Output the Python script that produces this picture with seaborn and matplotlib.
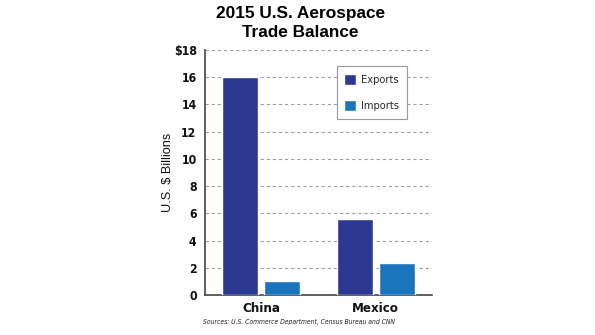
import matplotlib
matplotlib.use("Agg")
import matplotlib.pyplot as plt
import seaborn as sns
import pandas as pd

categories = ["China", "Mexico"]
series = ["Exports", "Imports"]
exports = [16.0, 5.6]
imports = [1.0, 2.35]
yticks = [0, 2, 4, 6, 8, 10, 12, 14, 16, 18]
ytick_labels = ["0", "2", "4", "6", "8", "10", "12", "14", "16", "$18"]
colors = ["#2b3990", "#1b75bc"]

df = pd.DataFrame({
    "Country": categories * 2,
    "Flow": [series[0]] * 2 + [series[1]] * 2,
    "Value": exports + imports,
})

sns.set_style("white")
plt.rcParams["font.family"] = ["Liberation Sans", "DejaVu Sans"]

fig = plt.figure(figsize=(5.95, 3.35), dpi=100)
ax = fig.add_axes([0.3445, 0.1194, 0.3815, 0.7313])

sns.barplot(data=df, x="Country", y="Value", hue="Flow", palette=colors,
            width=0.73, gap=0.14, ax=ax, saturation=1, zorder=3)

cond_bold = dict(family=["DejaVu Sans"], stretch="condensed", weight="bold")

ax.set_xlim(-0.49, 1.49)
ax.set_ylim(0, 18)
ax.set_yticks(yticks)
ax.set_yticklabels(ytick_labels, fontsize=8.8, color="#111111", **cond_bold)
ax.set_xticklabels(categories, fontsize=9.5, color="#111111", **cond_bold)
ax.tick_params(axis="both", length=0, pad=6)
ax.tick_params(axis="x", pad=5)
ax.set_xlabel("")
ax.set_ylabel("U.S. $ Billions", fontsize=9.2, color="#111111")
ax.yaxis.set_label_coords(-0.135, 0.5)

for y in yticks[1:]:
    ax.axhline(y, color="#a0a0a0", lw=0.8, ls=(0, (3, 2.5)), zorder=1)

for s in ["top", "right"]:
    ax.spines[s].set_visible(False)
for s in ["left", "bottom"]:
    ax.spines[s].set_color("#444444")
    ax.spines[s].set_linewidth(1.2)

leg = ax.legend(loc="upper left", bbox_to_anchor=(0.58, 0.935), frameon=True,
                borderaxespad=0, handlelength=1.05, handleheight=1.15,
                labelspacing=1.4, borderpad=0.7, handletextpad=0.5,
                fancybox=False, title=None, framealpha=1,
                prop={"size": 7.9, "family": ["DejaVu Sans"], "stretch": "condensed"})
leg.get_frame().set_edgecolor("#999999")
leg.get_frame().set_linewidth(0.8)

fig.text(0.505, 0.961, "2015 U.S. Aerospace", ha="center", va="center",
         fontsize=12.4, fontweight="bold", color="black")
fig.text(0.505, 0.904, "Trade Balance", ha="center", va="center",
         fontsize=12.4, fontweight="bold", color="black")
fig.text(0.342, 0.038, "Sources: U.S. Commerce Department, Census Bureau and CNN",
         ha="left", va="center", fontsize=4.9, style="italic", color="#222222",
         family=["DejaVu Sans"], stretch="condensed")

fig.savefig("out.png", dpi=100)
